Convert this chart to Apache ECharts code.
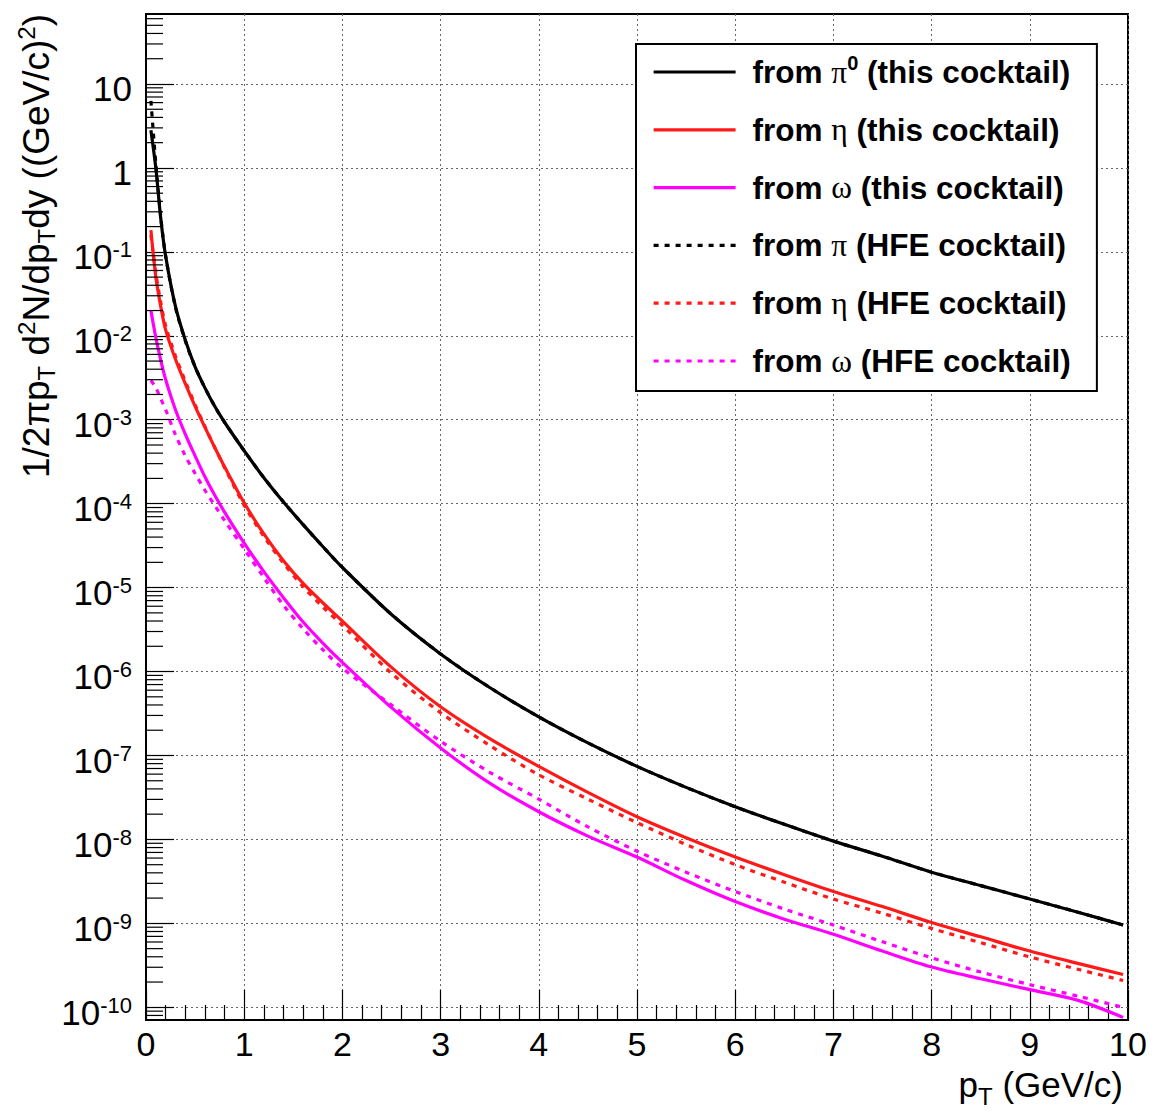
<!DOCTYPE html>
<html>
<head>
<meta charset="utf-8">
<script src="https://cdn.jsdelivr.net/npm/echarts@6/dist/echarts.min.js"></script>
<style>
html,body{margin:0;padding:0;background:#fff;}
#chart{width:1154px;height:1119px;}
</style>
</head>
<body>
<div id="chart"></div>
<script>
// p_T bin positions (GeV/c)
const pT = [0.05,0.1,0.15,0.2,0.3,0.4,0.5,0.6,0.7,0.8,1.0,1.2,1.4,1.6,1.8,2.0,2.5,3.0,3.5,4.0,4.5,5.0,5.5,6.0,6.5,7.0,7.5,8.0,8.5,9.0,9.5,9.95];

// from pi0 (this cocktail)
const pi0This = [2.818,1.0,0.2512,8.913e-2,2.239e-2,8.913e-3,4.266e-3,2.399e-3,1.445e-3,9.333e-4,4.266e-4,2.042e-4,1.047e-4,5.623e-5,3.090e-5,1.738e-5,4.786e-6,1.622e-6,6.457e-7,2.884e-7,1.413e-7,7.413e-8,4.169e-8,2.455e-8,1.514e-8,9.550e-9,6.310e-9,4.074e-9,2.818e-9,1.950e-9,1.349e-9,9.550e-10];
// from eta (this cocktail)
const etaThis = [0.182,5.012e-2,2.239e-2,1.175e-2,5.248e-3,2.692e-3,1.445e-3,8.128e-4,4.677e-4,2.754e-4,1.023e-4,4.365e-5,2.089e-5,1.122e-5,6.607e-6,3.981e-6,1.122e-6,3.802e-7,1.585e-7,7.413e-8,3.631e-8,1.862e-8,1.047e-8,6.166e-9,3.802e-9,2.399e-9,1.585e-9,1.023e-9,6.918e-10,4.677e-10,3.311e-10,2.455e-10];
// from omega (this cocktail)
const omegaThis = [1.995e-2,9.550e-3,5.129e-3,3.020e-3,1.318e-3,6.761e-4,3.715e-4,2.089e-4,1.259e-4,7.943e-5,3.388e-5,1.549e-5,7.586e-6,3.890e-6,2.188e-6,1.288e-6,3.715e-7,1.230e-7,4.677e-8,2.138e-8,1.096e-8,6.166e-9,3.236e-9,1.820e-9,1.122e-9,7.413e-10,4.677e-10,3.020e-10,2.188e-10,1.622e-10,1.202e-10,7.586e-11];
// from pi (HFE cocktail)
const piHFE = [6.31,1.122,0.263,8.913e-2,2.188e-2,8.710e-3,4.266e-3,2.399e-3,1.445e-3,9.333e-4,4.266e-4,2.042e-4,1.047e-4,5.623e-5,3.090e-5,1.738e-5,4.786e-6,1.622e-6,6.457e-7,2.884e-7,1.413e-7,7.413e-8,4.169e-8,2.455e-8,1.514e-8,9.550e-9,6.310e-9,4.074e-9,2.818e-9,1.950e-9,1.349e-9,9.550e-10];
// from eta (HFE cocktail)
const etaHFE = [0.1585,5.623e-2,2.512e-2,1.318e-2,5.754e-3,2.884e-3,1.514e-3,8.318e-4,4.677e-4,2.692e-4,9.550e-5,4.074e-5,1.950e-5,1.023e-5,5.888e-6,3.548e-6,9.550e-7,3.236e-7,1.318e-7,5.888e-8,3.020e-8,1.585e-8,8.710e-9,5.012e-9,3.090e-9,1.950e-9,1.318e-9,8.710e-10,5.888e-10,3.981e-10,2.818e-10,2.089e-10];
// from omega (HFE cocktail)
const omegaHFE = [2.951e-3,2.399e-3,1.778e-3,1.318e-3,6.607e-4,3.715e-4,2.291e-4,1.445e-4,9.550e-5,6.310e-5,2.884e-5,1.318e-5,6.166e-6,3.236e-6,1.820e-6,1.096e-6,3.981e-7,1.479e-7,6.310e-8,3.020e-8,1.413e-8,7.244e-9,4.074e-9,2.399e-9,1.479e-9,9.550e-10,6.026e-10,3.890e-10,2.630e-10,1.862e-10,1.349e-10,1.0e-10];

const seriesNames = [
  'from π0 (this cocktail)','from η (this cocktail)','from ω (this cocktail)',
  'from π (HFE cocktail)','from η (HFE cocktail)','from ω (HFE cocktail)'
];
const legendRich = {
  'from π0 (this cocktail)': 'from {gr|π}{sup|0} (this cocktail)',
  'from η (this cocktail)': 'from {gr|η} (this cocktail)',
  'from ω (this cocktail)': 'from {gr|ω} (this cocktail)',
  'from π (HFE cocktail)': 'from {gr|π} (HFE cocktail)',
  'from η (HFE cocktail)': 'from {gr|η} (HFE cocktail)',
  'from ω (HFE cocktail)': 'from {gr|ω} (HFE cocktail)'
};

// axis range and tick positions
const xMin = 0, xMax = 10, xInterval = 1;
const yMin = 7.06e-11, yMax = 68.2;
const yDecadeTicks = [1e-10,1e-9,1e-8,1e-7,1e-6,1e-5,1e-4,1e-3,1e-2,1e-1,1,10];
const yMinorMantissas = [2,3,4,5,6,7,8,9];

const yMinorTicks = [];
for (let e = -11; e <= 1; e++) {
  yMinorMantissas.forEach(m => {
    const v = m * Math.pow(10, e);
    if (v > yMin && v < yMax) yMinorTicks.push([0, v, 17]);
  });
}

const FONT = '"Liberation Sans", Arial, Helvetica, sans-serif';
const SERIF = '"Liberation Serif", "DejaVu Serif", serif';

const chart = echarts.init(document.getElementById('chart'), null, {renderer: 'svg'});

function lineSeries(name, data, color, dashed) {
  return {
    name: name,
    type: 'line',
    data: pT.map((x, i) => [x, data[i]]),
    symbol: 'none',
    smooth: 0.3,
    lineStyle: {color: color, width: 3.2, type: dashed ? [5, 6] : 'solid'},
    itemStyle: {color: color},
    z: dashed ? 4 : 3,
    clip: true
  };
}

function tickSeries(data) {
  return {
    type: 'custom',
    silent: true,
    z: 6,
    clip: true,
    data: data,
    renderItem: function (params, api) {
      const p = api.coord([api.value(0), api.value(1)]);
      const len = api.value(2);
      return {
        type: 'line',
        shape: {x1: p[0], y1: p[1], x2: p[0] + len, y2: p[1]},
        style: {stroke: '#000', lineWidth: 1.2}
      };
    }
  };
}

const option = {
  backgroundColor: '#fff',
  animation: false,
  textStyle: {fontFamily: FONT},
  grid: {left: 146, right: 26, top: 14, bottom: 99, show: true, borderColor: '#000', borderWidth: 2, containLabel: false, outerBoundsMode: 'none'},
  xAxis: {
    type: 'value', min: xMin, max: xMax, interval: xInterval,
    axisLine: {show: true, onZero: false, lineStyle: {color: '#000', width: 2}},
    axisTick: {show: true, inside: true, length: 30, lineStyle: {color: '#000', width: 1.2}},
    minorTick: {show: true, splitNumber: 5, length: 15, lineStyle: {color: '#000', width: 1.2}},
    axisLabel: {color: '#000', fontSize: 34, lineHeight: 26, fontFamily: FONT, margin: 11},
    splitLine: {show: true, lineStyle: {color: '#666', width: 1, type: [2, 3]}}
  },
  yAxis: {
    type: 'log', logBase: 10, min: yMin, max: yMax,
    axisLine: {show: true, lineStyle: {color: '#000', width: 2}},
    axisTick: {show: true, inside: true, length: 28, customValues: yDecadeTicks, lineStyle: {color: '#000', width: 1.2}},
    axisLabel: {
      color: '#000', fontSize: 35, fontFamily: FONT, margin: 14,
      padding: [10, 0, 0, 0],
      customValues: yDecadeTicks,
      formatter: function (v) {
        const e = Math.round(Math.log10(v));
        if (e === 1) return '10';
        if (e === 0) return '1';
        return '10{sup|' + e + '}';
      },
      rich: {sup: {fontSize: 22, fontFamily: FONT, color: '#000', padding: [0, 0, 14, 0]}}
    },
    splitLine: {show: true, lineStyle: {color: '#666', width: 1, type: [2, 3]}}
  },
  legend: {
    orient: 'vertical',
    left: 636, top: 44,
    data: seriesNames,
    backgroundColor: '#fff',
    borderColor: '#000', borderWidth: 2,
    padding: [9, 26, 14, 16],
    itemWidth: 82, itemHeight: 14, itemGap: 25.8,
    itemStyle: {opacity: 0},
    lineStyle: {width: 3.2},
    formatter: function (name) { return legendRich[name]; },
    textStyle: {
      color: '#000', fontSize: 31.5, fontWeight: 'bold', fontFamily: FONT,
      lineHeight: 30, padding: [0, 0, 0, 12],
      rich: {
        gr: {fontSize: 31.5, fontFamily: SERIF, fontWeight: 'normal', color: '#000'},
        sup: {fontSize: 20, fontWeight: 'bold', fontFamily: FONT, color: '#000', padding: [0, 0, 18, 0]}
      }
    },
    selectedMode: false
  },
  graphic: [
    {
      type: 'text', x: 1123, y: 1060, z: 10,
      style: {
        text: 'p{sub|T} (GeV/c)', fill: '#000', font: '35px ' + FONT,
        align: 'right', verticalAlign: 'top', lineHeight: 48,
        rich: {sub: {fontSize: 24, lineHeight: 24, fontFamily: FONT, fill: '#000', padding: [24, 0, 0, 0]}}
      }
    },
    {
      type: 'text', x: 14, y: 14, rotation: Math.PI / 2, z: 10,
      style: {
        text: '1/2πp{sub|T} d{sup|2}N/dp{sub|T}dy ((GeV/c){sup|2})',
        fill: '#000', font: '37px ' + FONT, align: 'right', verticalAlign: 'top',
        rich: {
          sub: {fontSize: 24, fontFamily: FONT, fill: '#000', padding: [20, 0, 0, 0]},
          sup: {fontSize: 24, fontFamily: FONT, fill: '#000', padding: [0, 0, 20, 0]}
        }
      }
    }
  ],
  series: [
    lineSeries(seriesNames[0], pi0This, '#000000', false),
    lineSeries(seriesNames[1], etaThis, '#ff1a1a', false),
    lineSeries(seriesNames[2], omegaThis, '#ff00ff', false),
    lineSeries(seriesNames[3], piHFE, '#000000', true),
    lineSeries(seriesNames[4], etaHFE, '#ff1a1a', true),
    lineSeries(seriesNames[5], omegaHFE, '#ff00ff', true),
    tickSeries(yMinorTicks)
  ]
};
chart.setOption(option);
</script>
</body>
</html>
